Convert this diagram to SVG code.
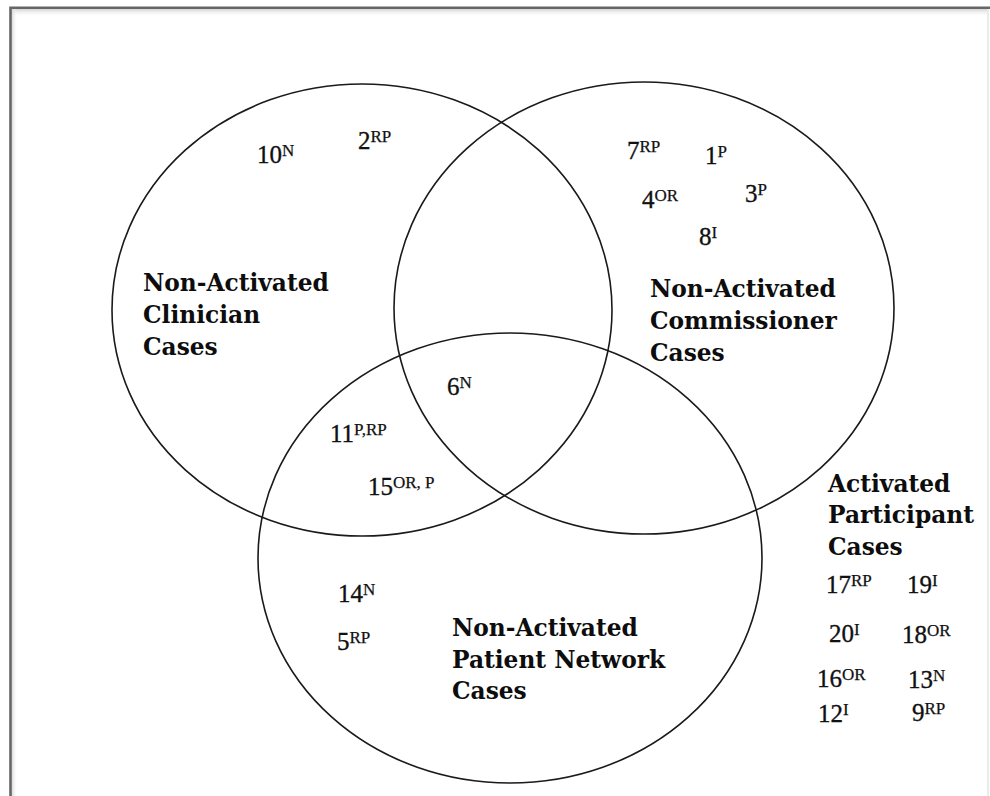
<svg xmlns="http://www.w3.org/2000/svg" width="990" height="796" viewBox="0 0 990 796">
  <defs>
    <linearGradient id="shadeTop" x1="0" y1="0" x2="0" y2="1">
      <stop offset="0" stop-color="#d4d4d4"/>
      <stop offset="1" stop-color="#ffffff" stop-opacity="0"/>
    </linearGradient>
    <linearGradient id="shadeLeft" x1="0" y1="0" x2="1" y2="0">
      <stop offset="0" stop-color="#d4d4d4"/>
      <stop offset="1" stop-color="#ffffff" stop-opacity="0"/>
    </linearGradient>
    <style>
      .set { fill: none; stroke: #1a1a1a; stroke-width: 1.6; }
      .label { font-family: "DejaVu Serif", "Liberation Serif", serif; font-weight: bold; font-size: 23.3px; fill: #0d0d0d; }
      .num { font-family: "Liberation Serif", "DejaVu Serif", serif; font-size: 25px; fill: #111; stroke: #111; stroke-width: 0.35px; }
      .sup { font-size: 17px; stroke-width: 0.25px; }
    </style>
  </defs>

  <rect width="990" height="796" fill="#ffffff"/>

  <!-- page frame with soft inner shading -->
  <g id="frame">
    <rect x="11.5" y="9" width="976" height="8" fill="url(#shadeTop)"/>
    <rect x="11.5" y="9" width="6" height="787" fill="url(#shadeLeft)"/>
    <line x1="988" y1="8" x2="988" y2="796" stroke="#e4e4e4" stroke-width="1.5"/>
    <path d="M10.5 796 V7.8 H990" fill="none" stroke="#666" stroke-width="2.6"/>
  </g>

  <!-- set outlines and their titles -->
  <g id="clinician-set">
    <ellipse class="set" cx="362" cy="310" rx="250" ry="226"/>
    <text class="label" x="143" y="291">Non-Activated</text>
    <text class="label" x="143" y="323">Clinician</text>
    <text class="label" x="143" y="355">Cases</text>
  </g>

  <g id="commissioner-set">
    <ellipse class="set" cx="644" cy="308" rx="250" ry="226"/>
    <text class="label" x="650" y="297">Non-Activated</text>
    <text class="label" x="650" y="329">Commissioner</text>
    <text class="label" x="650" y="361">Cases</text>
  </g>

  <g id="patient-network-set">
    <ellipse class="set" cx="510" cy="558" rx="252" ry="225"/>
    <text class="label" x="452" y="636">Non-Activated</text>
    <text class="label" x="452" y="668">Patient Network</text>
    <text class="label" x="452" y="699">Cases</text>
  </g>

  <g id="activated-group">
    <text class="label" x="828" y="492">Activated</text>
    <text class="label" x="828" y="523">Participant</text>
    <text class="label" x="828" y="555">Cases</text>
  </g>

  <!-- case numbers with type superscripts -->
  <g id="clinician-cases">
    <text class="num" x="257" y="163">10<tspan class="sup" dy="-7">N</tspan></text>
    <text class="num" x="358" y="149">2<tspan class="sup" dy="-7">RP</tspan></text>
  </g>

  <g id="commissioner-cases">
    <text class="num" x="627" y="159">7<tspan class="sup" dy="-7">RP</tspan></text>
    <text class="num" x="705" y="164">1<tspan class="sup" dy="-7">P</tspan></text>
    <text class="num" x="642" y="208">4<tspan class="sup" dy="-7">OR</tspan></text>
    <text class="num" x="745" y="202">3<tspan class="sup" dy="-7">P</tspan></text>
    <text class="num" x="699" y="245">8<tspan class="sup" dy="-7">I</tspan></text>
  </g>

  <g id="overlap-cases">
    <text class="num" x="447" y="395">6<tspan class="sup" dy="-7">N</tspan></text>
    <text class="num" x="330" y="442">11<tspan class="sup" dy="-7">P,RP</tspan></text>
    <text class="num" x="368" y="495">15<tspan class="sup" dy="-7">OR, P</tspan></text>
  </g>

  <g id="patient-network-cases">
    <text class="num" x="338" y="602">14<tspan class="sup" dy="-7">N</tspan></text>
    <text class="num" x="337" y="650">5<tspan class="sup" dy="-7">RP</tspan></text>
  </g>

  <g id="activated-cases">
    <text class="num" x="826" y="593">17<tspan class="sup" dy="-7">RP</tspan></text>
    <text class="num" x="907" y="593">19<tspan class="sup" dy="-7">I</tspan></text>
    <text class="num" x="829" y="642">20<tspan class="sup" dy="-7">I</tspan></text>
    <text class="num" x="902" y="643">18<tspan class="sup" dy="-7">OR</tspan></text>
    <text class="num" x="817" y="687">16<tspan class="sup" dy="-7">OR</tspan></text>
    <text class="num" x="908" y="688">13<tspan class="sup" dy="-7">N</tspan></text>
    <text class="num" x="818" y="722">12<tspan class="sup" dy="-7">I</tspan></text>
    <text class="num" x="912" y="721">9<tspan class="sup" dy="-7">RP</tspan></text>
  </g>
</svg>
